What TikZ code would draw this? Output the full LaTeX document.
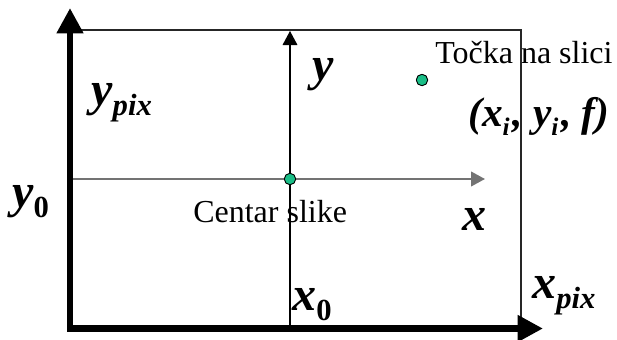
\documentclass[tikz,border=0pt]{standalone}
\usepackage{fontspec}
\setmainfont{Liberation Serif}
\usetikzlibrary{arrows.meta}

\definecolor{dotgreen}{RGB}{26,190,135}
\newcommand{\axlbl}[2]{\textbf{\textit{#1}}\raisebox{-0.22em}{\fontsize{23}{23}\selectfont\textbf{\textit{#2}}}}
\newcommand{\axlblz}[2]{\textbf{\textit{#1}}\raisebox{-0.22em}{\fontsize{23}{23}\selectfont\textbf{#2}}}
\newcommand{\subi}{\raisebox{-0.22em}{\fontsize{19}{19}\selectfont i}\kern2pt}

\begin{document}
\begin{tikzpicture}
  [
    x=0.75pt, y=-0.75pt,
    frame/.style={draw=black!85, line width=0.8pt},
    bigaxis/.style={line width=4.8pt, line join=miter,
      {Triangle[length=19pt, width=19pt]}-{Triangle[length=19pt, width=19pt]}},
    thinaxis/.style={line width=0.9pt, -{Triangle[length=10.5pt, width=11pt]}},
    dot/.style={draw, circle, fill=dotgreen, minimum size=8.5pt, inner sep=0pt, line width=0.6pt},
    biglbl/.style={anchor=base west, inner sep=0pt, font=\fontsize{36}{36}\selectfont},
    midlbl/.style={anchor=base west, inner sep=0pt, font=\fontsize{31}{31}\selectfont},
    txt/.style={anchor=base west, inner sep=0pt, font=\fontsize{24}{24}\selectfont}
  ]
    \useasboundingbox (0,0) rectangle (617,339);
    % =========================================================================
    % COORDINATES
    % =========================================================================
    \coordinate (origin) at (70,328.5);
    \coordinate (ytip) at (70,8);
    \coordinate (xtip) at (543,328.5);
    \coordinate (frameTL) at (72,30);
    \coordinate (frameBR) at (521,328);
    \coordinate (vbot) at (290,328);
    \coordinate (vtip) at (290,31);
    \coordinate (hleft) at (73,179);
    \coordinate (htip) at (485,179);

    % =========================================================================
    % NODES
    % =========================================================================
    \node [dot] (centre) at (290,179) {};
    \node [dot] (point) at (422,80) {};

    \node [biglbl] (ylab) at (312,80) {\axlbl{y}{}};
    \node [biglbl] (ypix) at (91,105) {\axlbl{y}{pix}};
    \node [biglbl] (y0) at (12,207) {\axlblz{y}{0}};
    \node [biglbl] (x0) at (292,310) {\axlblz{x}{0}};
    \node [biglbl] (xpix) at (532,298) {\axlbl{x}{pix}};
    \node [biglbl] (xlab) at (462,230) {\axlbl{x}{}};
    \node [midlbl] (coords) at (468,126)
      {\textbf{\textit{(x\subi, y\subi, f)}}};
    \node [txt] (tocka) at (435,63) {Točka na slici};
    \node [txt] (centar) at (193,222) {Centar slike};

    % =========================================================================
    % PATHS
    % =========================================================================
    \draw [frame] (frameTL) rectangle (frameBR);
    \draw [thinaxis] (vbot) -- (vtip);
    \draw [thinaxis, draw=black!55, fill=black!55, line width=1.5pt] (hleft) -- (htip);
    \draw [bigaxis] (ytip) -- (origin) -- (xtip);
    % --- DOTS ON TOP ---
    \node [dot] at (centre) {};
    \node [dot] at (point) {};

  \end{tikzpicture}
\end{document}
